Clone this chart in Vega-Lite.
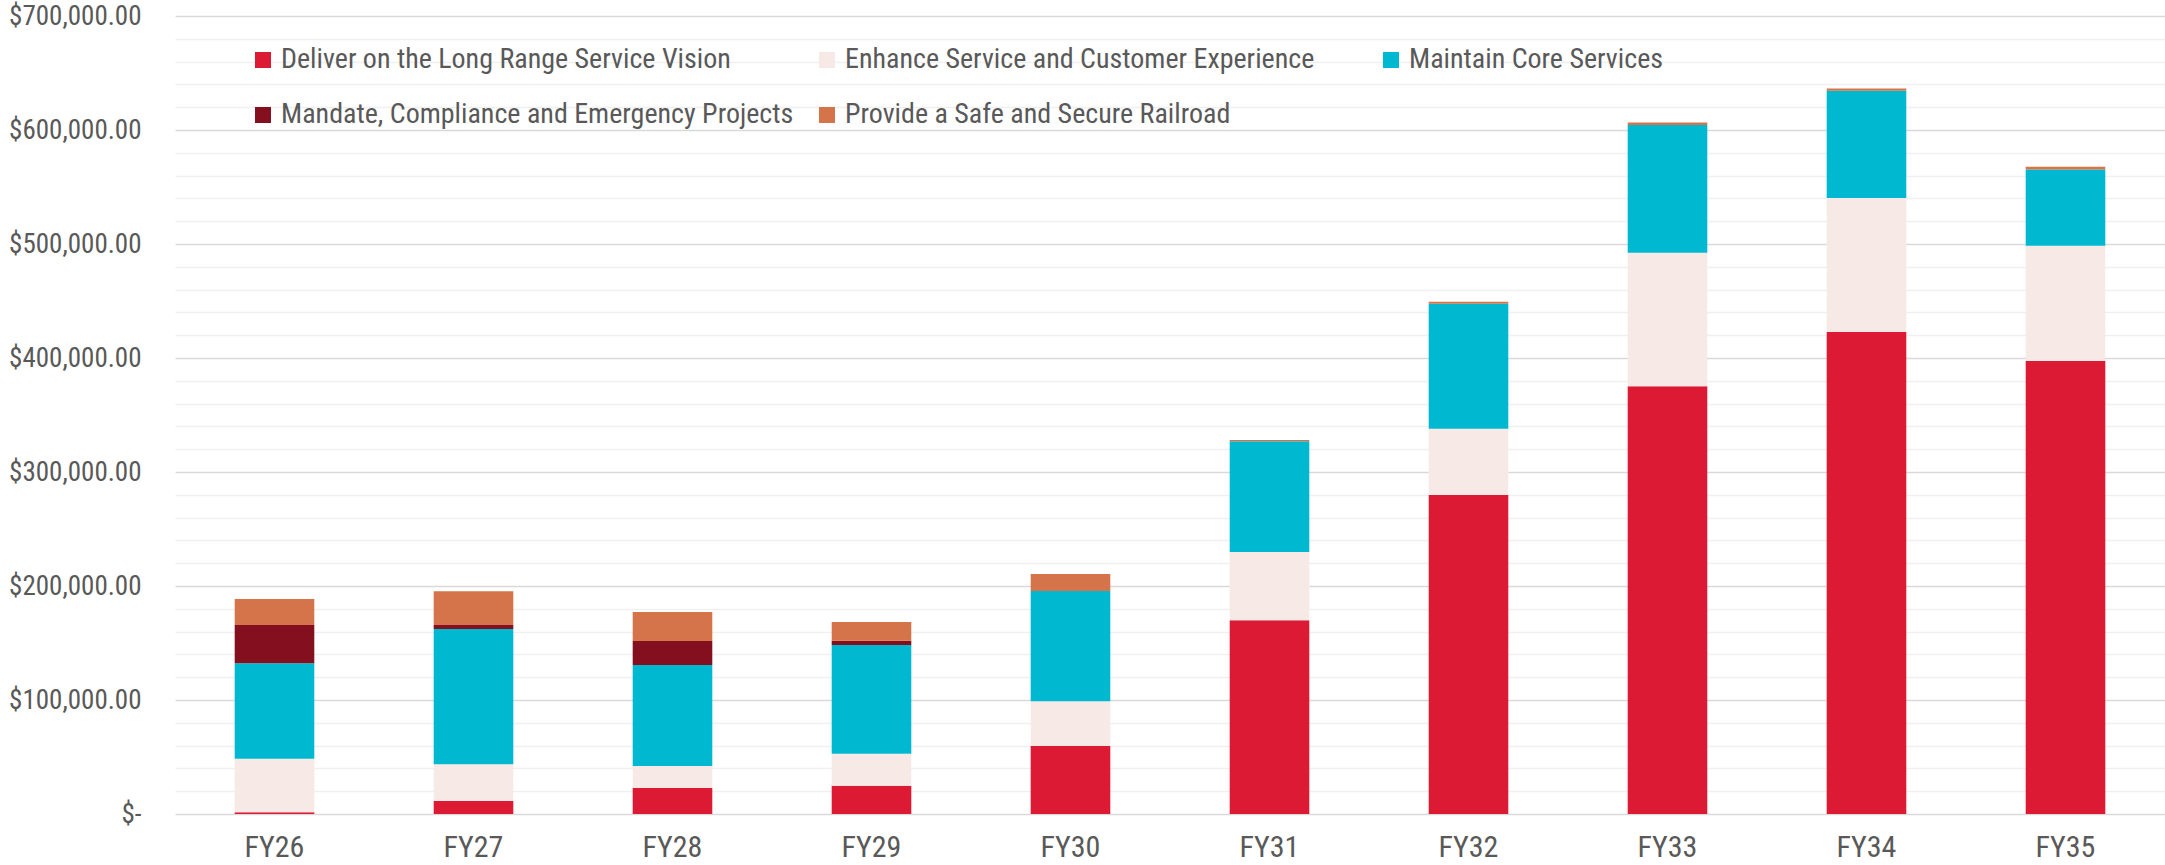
{
  "$schema": "https://vega.github.io/schema/vega-lite/v6.json",
  "width": 1990,
  "height": 798,
  "autosize": {"type": "none"},
  "padding": {"left": 175, "top": 16, "right": 0, "bottom": 51},
  "background": "white",
  "config": {
    "view": {"stroke": null},
    "font": "'Roboto Condensed', 'Liberation Sans Narrow', 'DejaVu Sans Condensed', Roboto, sans-serif"
  },
  "data": {
    "values": [
      {"year": "FY26", "series": "Deliver on the Long Range Service Vision", "amount": 1500},
      {"year": "FY26", "series": "Enhance Service and Customer Experience", "amount": 47000},
      {"year": "FY26", "series": "Maintain Core Services", "amount": 83700},
      {"year": "FY26", "series": "Mandate, Compliance and Emergency Projects", "amount": 33600},
      {"year": "FY26", "series": "Provide a Safe and Secure Railroad", "amount": 22800},
      {"year": "FY27", "series": "Deliver on the Long Range Service Vision", "amount": 11400},
      {"year": "FY27", "series": "Enhance Service and Customer Experience", "amount": 32200},
      {"year": "FY27", "series": "Maintain Core Services", "amount": 118600},
      {"year": "FY27", "series": "Mandate, Compliance and Emergency Projects", "amount": 3600},
      {"year": "FY27", "series": "Provide a Safe and Secure Railroad", "amount": 29500},
      {"year": "FY28", "series": "Deliver on the Long Range Service Vision", "amount": 22800},
      {"year": "FY28", "series": "Enhance Service and Customer Experience", "amount": 19300},
      {"year": "FY28", "series": "Maintain Core Services", "amount": 88600},
      {"year": "FY28", "series": "Mandate, Compliance and Emergency Projects", "amount": 21000},
      {"year": "FY28", "series": "Provide a Safe and Secure Railroad", "amount": 25500},
      {"year": "FY29", "series": "Deliver on the Long Range Service Vision", "amount": 24800},
      {"year": "FY29", "series": "Enhance Service and Customer Experience", "amount": 28100},
      {"year": "FY29", "series": "Maintain Core Services", "amount": 95300},
      {"year": "FY29", "series": "Mandate, Compliance and Emergency Projects", "amount": 3800},
      {"year": "FY29", "series": "Provide a Safe and Secure Railroad", "amount": 16400},
      {"year": "FY30", "series": "Deliver on the Long Range Service Vision", "amount": 59600},
      {"year": "FY30", "series": "Enhance Service and Customer Experience", "amount": 39200},
      {"year": "FY30", "series": "Maintain Core Services", "amount": 96800},
      {"year": "FY30", "series": "Provide a Safe and Secure Railroad", "amount": 14900},
      {"year": "FY31", "series": "Deliver on the Long Range Service Vision", "amount": 169900},
      {"year": "FY31", "series": "Enhance Service and Customer Experience", "amount": 59900},
      {"year": "FY31", "series": "Maintain Core Services", "amount": 97100},
      {"year": "FY31", "series": "Provide a Safe and Secure Railroad", "amount": 1100},
      {"year": "FY32", "series": "Deliver on the Long Range Service Vision", "amount": 279800},
      {"year": "FY32", "series": "Enhance Service and Customer Experience", "amount": 58100},
      {"year": "FY32", "series": "Maintain Core Services", "amount": 109700},
      {"year": "FY32", "series": "Provide a Safe and Secure Railroad", "amount": 1700},
      {"year": "FY33", "series": "Deliver on the Long Range Service Vision", "amount": 375300},
      {"year": "FY33", "series": "Enhance Service and Customer Experience", "amount": 117000},
      {"year": "FY33", "series": "Maintain Core Services", "amount": 112000},
      {"year": "FY33", "series": "Provide a Safe and Secure Railroad", "amount": 2300},
      {"year": "FY34", "series": "Deliver on the Long Range Service Vision", "amount": 422700},
      {"year": "FY34", "series": "Enhance Service and Customer Experience", "amount": 117700},
      {"year": "FY34", "series": "Maintain Core Services", "amount": 94000},
      {"year": "FY34", "series": "Provide a Safe and Secure Railroad", "amount": 2000},
      {"year": "FY35", "series": "Deliver on the Long Range Service Vision", "amount": 397300},
      {"year": "FY35", "series": "Enhance Service and Customer Experience", "amount": 101100},
      {"year": "FY35", "series": "Maintain Core Services", "amount": 67000},
      {"year": "FY35", "series": "Provide a Safe and Secure Railroad", "amount": 2300}
    ]
  },
  "mark": {"type": "bar"},
  "encoding": {
    "x": {
      "field": "year",
      "type": "nominal",
      "sort": null,
      "scale": {"paddingInner": 0.6, "paddingOuter": 0.3},
      "axis": {
        "title": null,
        "labelAngle": 0,
        "labelFontSize": 30,
        "labelColor": "#595959",
        "labelPadding": 18,
        "ticks": false,
        "domain": false,
        "grid": false
      }
    },
    "y": {
      "field": "amount",
      "type": "quantitative",
      "stack": "zero",
      "scale": {"domain": [0, 700000], "nice": false},
      "axis": {
        "title": null,
        "values": [0, 20000, 40000, 60000, 80000, 100000, 120000, 140000, 160000, 180000, 200000, 220000, 240000, 260000, 280000, 300000, 320000, 340000, 360000, 380000, 400000, 420000, 440000, 460000, 480000, 500000, 520000, 540000, 560000, 580000, 600000, 620000, 640000, 660000, 680000, 700000],
        "labelExpr": "datum.value % 100000 == 0 ? (datum.value == 0 ? '$-\u00a0\u00a0\u00a0' : '$' + format(datum.value, ',.2f')) : ''",
        "labelFontSize": 27,
        "labelColor": "#595959",
        "labelPadding": 34,
        "labelOverlap": false,
        "labelFlush": false,
        "ticks": false,
        "domain": false,
        "gridWidth": 1.5,
        "gridColor": {"condition": {"test": "datum.value % 100000 == 0", "value": "#d9d9d9"}, "value": "#f0f0f0"}
      }
    },
    "color": {
      "field": "series",
      "type": "nominal",
      "scale": {
        "domain": ["Deliver on the Long Range Service Vision", "Enhance Service and Customer Experience", "Maintain Core Services", "Mandate, Compliance and Emergency Projects", "Provide a Safe and Secure Railroad"],
        "range": ["#DC1A33", "#F7EAE6", "#00B8D0", "#84101F", "#D5744A"]
      },
      "legend": {
        "title": null,
        "orient": "none",
        "legendX": 74,
        "legendY": 30,
        "direction": "horizontal",
        "columns": 3,
        "gridAlign": "all",
        "columnPadding": 19,
        "rowPadding": 27,
        "symbolType": "square",
        "symbolSize": 256,
        "symbolStrokeWidth": 0,
        "labelFontSize": 28,
        "labelColor": "#595959",
        "labelOffset": 4,
        "labelLimit": 1000
      }
    },
    "order": {"field": "series", "sort": "ascending"}
  }
}
